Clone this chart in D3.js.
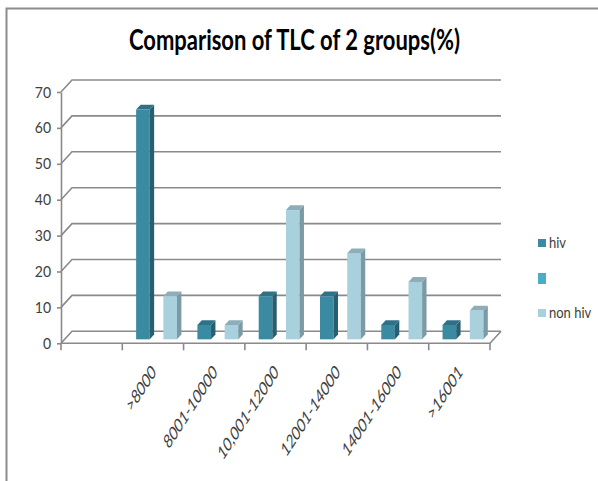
<!DOCTYPE html>
<html>
<head>
<meta charset="utf-8">
<script src="https://cdn.jsdelivr.net/npm/d3@7"></script>
<style>
  html, body { margin: 0; padding: 0; background: #fff; }
  svg { display: block; font-family: Lato, "Open Sans", sans-serif; }
</style>
</head>
<body>
<svg id="chart" width="598" height="481"></svg>
<script>
// Categories (the first slot of the category axis is left empty)
const categories = ["", ">8000", "8001-10000", "10,001-12000", "12001-14000", "14001-16000", ">16001"];
const seriesNames = ["hiv", "", "non hiv"];
const hivValues    = [null, 64, 4, 12, 12, 4, 4];
const blankValues  = [null, null, null, null, null, null, null];
const nonHivValues = [null, 12, 4, 36, 24, 16, 8];
const yTicks = [0, 10, 20, 30, 40, 50, 60, 70];
const titleText = "Comparison of TLC of 2 groups(%)";

const seriesValues = [hivValues, blankValues, nonHivValues];
const colors = [
  { front: "#3A8AA1", side: "#275F70", top: "#2F7287" },
  { front: "#4BACC6", side: "#35798B", top: "#3F91A7" },
  { front: "#A9D0DD", side: "#7B9AA5", top: "#8DAEB9" }
];

const svg = d3.select("#chart");

// Frame of the chart area
svg.append("path")
  .attr("d", "M6.5,481 V8.5 H598")
  .attr("fill", "none").attr("stroke", "#8C8C8C").attr("stroke-width", 2);

// 3-D plot geometry: front plane plus an oblique depth offset
const left = 61, right = 490;
const DX = 11, DY = -12;          // floor depth offset
const barFront = 0.33, barDepth = 0.4;

const x = d3.scaleBand().domain(categories).range([left, right]).padding(0);
const xs = d3.scaleBand().domain(d3.range(seriesNames.length))
  .range([0, x.bandwidth()]).paddingInner(0).paddingOuter(0.75);
const y = d3.scaleLinear().domain([0, 70]).range([343.3, 92]);

const grid = svg.append("g").attr("fill", "none")
  .attr("stroke", "#8A8A8A").attr("stroke-width", 1.6);

// Back-wall gridlines with their side-wall diagonals
yTicks.forEach(v => {
  grid.append("path").attr("d",
    `M${left},${y(v)} L${left + DX},${y(v) + DY} H${right + DX}`);
});
// Floor: front edge and right edge
grid.append("path").attr("d",
  `M${left},${y(0)} H${right} L${right + DX},${y(0) + DY}`);

// Y axis
const yAxis = d3.axisLeft(y).tickValues(yTicks).tickSize(4).tickSizeOuter(0).tickPadding(6);
const gy = svg.append("g").attr("transform", `translate(${left},0)`).call(yAxis);
gy.select(".domain").attr("stroke", "#8A8A8A").attr("stroke-width", 1.6);
gy.selectAll(".tick line").attr("stroke", "#8A8A8A").attr("stroke-width", 1.6);
gy.selectAll(".tick text")
  .attr("font-family", "Lato, sans-serif").attr("font-size", 14)
  .attr("fill", "#404040").attr("transform", "scale(1,1.12)");

// Category tick marks at the band boundaries
const boundaries = categories.map(c => x(c)).concat([right]);
svg.append("g").selectAll("line").data(boundaries).join("line")
  .attr("x1", d => d).attr("x2", d => d)
  .attr("y1", y(0)).attr("y2", y(0) + 7)
  .attr("stroke", "#8A8A8A").attr("stroke-width", 1.6);

// Category labels, slanted
svg.append("g").selectAll("text").data(categories.filter(c => c !== "")).join("text")
  .attr("transform", c => `translate(${x(c) + x.bandwidth() / 2 + 4},${y(0) + 30}) scale(1,1.55) rotate(-45)`)
  .attr("text-anchor", "end")
  .attr("font-size", 12.5)
  .attr("fill", "#404040")
  .text(c => c);

// Bars: front face, top face and right side face
const bdx = barDepth * DX, bdy = barDepth * DY;
const bars = svg.append("g");
seriesValues.forEach((vals, si) => {
  categories.forEach((c, ci) => {
    const v = vals[ci];
    if (v == null) return;
    const x0 = x(c) + xs(si) + barFront * DX;
    const x1 = x0 + xs.bandwidth();
    const base = y(0) + barFront * DY;
    const top = y(v) + barFront * DY;
    const g = bars.append("g");
    g.append("rect").attr("x", x0).attr("y", top)
      .attr("width", x1 - x0).attr("height", base - top)
      .attr("fill", colors[si].front);
    g.append("path")
      .attr("d", `M${x1},${top} L${x1 + bdx},${top + bdy} V${base + bdy} L${x1},${base} Z`)
      .attr("fill", colors[si].side);
    g.append("path")
      .attr("d", `M${x0},${top} H${x1} L${x1 + bdx},${top + bdy} H${x0 + bdx} Z`)
      .attr("fill", colors[si].top);
  });
});

// Title
svg.append("text")
  .attr("x", 129).attr("y", 50)
  .attr("font-family", "Lato, sans-serif").attr("font-weight", "bold")
  .attr("font-size", 29)
  .attr("textLength", 331).attr("lengthAdjust", "spacingAndGlyphs")
  .attr("fill", "#000")
  .text(titleText);

// Legend
const legendY = [243, 278.5, 313];
const legendH = [8, 11, 8];
const legend = svg.append("g");
seriesNames.forEach((name, i) => {
  legend.append("rect")
    .attr("x", 538).attr("y", legendY[i] - legendH[i] / 2)
    .attr("width", 8).attr("height", legendH[i])
    .attr("fill", colors[i].front);
  legend.append("text")
    .attr("transform", `translate(549,${legendY[i] + 5}) scale(1,1.2)`)
    .attr("font-size", 13).attr("fill", "#404040")
    .text(name);
});
</script>
</body>
</html>
